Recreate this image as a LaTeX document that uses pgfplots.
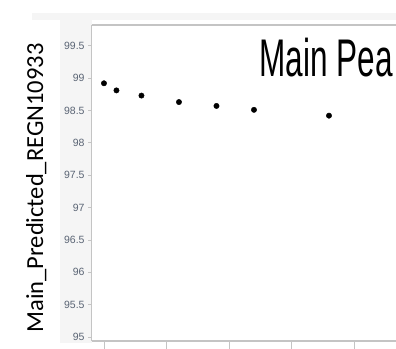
\documentclass[border=0pt]{standalone}
\usepackage{pgfplots}
\pgfplotsset{compat=1.18}
\usepackage{fontspec}
\setmainfont{Liberation Sans}
\newfontfamily\carlito{Carlito}
\definecolor{ticklab}{HTML}{5A6474}
\definecolor{frameg}{HTML}{C4C4C4}
\definecolor{bandg}{HTML}{F5F5F5}
\begin{document}
\begin{tikzpicture}[x=1pt,y=1pt]
\useasboundingbox (0,0) rectangle (396,348);
\fill[white] (0,0) rectangle (396,348);
\fill[bandg] (32,328) rectangle (396,335);
\fill[bandg] (60,5) rectangle (92,328);
\begin{axis}[
  at={(91.7pt,7pt)}, anchor=south west,
  scale only axis, width=304.3pt, height=316pt,
  xmin=-0.98, xmax=23.36, ymin=94.94, ymax=99.82,
  axis x line=box, axis y line=left,
  axis line style={frameg, line width=1.1pt, -},
  xtick={0,5,10,15,20}, xticklabels={},
  ytick={95,95.5,...,99.5},
  yticklabel style={font=\fontsize{10.5}{11}\selectfont, text=ticklab},
  /pgf/number format/assume math mode=true,
  /pgf/number format/fixed,
  tick align=outside, tick pos=left,
  major tick length=3.6pt,
  tick style={frameg, line width=0.8pt},
  xtick style={/pgfplots/major tick length=8pt},
  axis background/.style={fill=white},
  clip=false,
]
\addplot[only marks, mark=*, mark size=2.7pt, black] coordinates {
(0,98.92) (1,98.81) (3,98.73) (6,98.63) (9,98.57) (12,98.51) (18,98.42)
};
\end{axis}
\node[anchor=base west, inner sep=0pt] at (259.5,271) {\scalebox{0.595}[1]{\fontsize{53}{60}\selectfont Main Pea}};
\node[anchor=base, rotate=90, inner sep=0pt] at (43,160) {\carlito\fontsize{24.5}{28}\selectfont Main\_Predicted\_REGN10933};
\end{tikzpicture}
\end{document}
